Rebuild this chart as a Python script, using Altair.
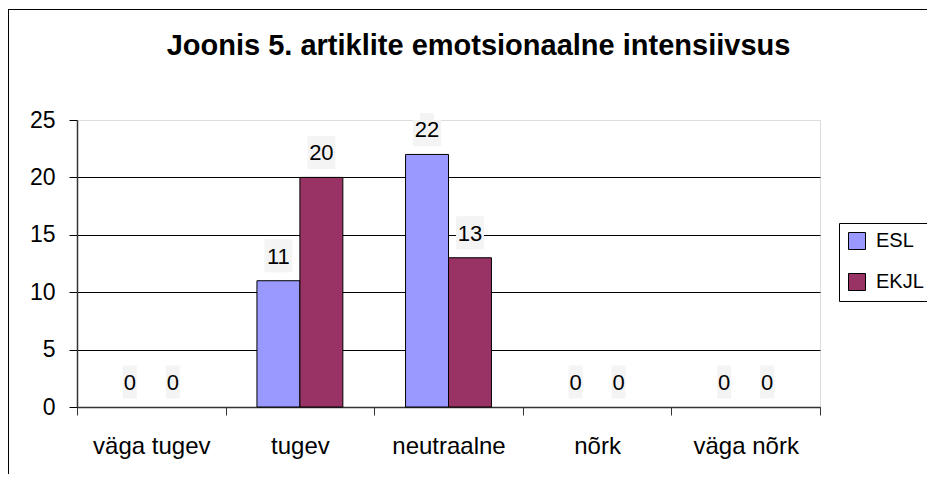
import altair as alt
import pandas as pd

categories = ["väga tugev", "tugev", "neutraalne", "nõrk", "väga nõrk"]
series = ["ESL", "EKJL"]
esl = [0, 11, 22, 0, 0]
ekjl = [0, 20, 13, 0, 0]
colors = ["#9999FF", "#993366"]
title_text = "Joonis 5. artiklite emotsionaalne intensiivsus"

rows = []
for c, a, b in zip(categories, esl, ekjl):
    rows.append({"kategooria": c, "seeria": "ESL", "vaartus": a})
    rows.append({"kategooria": c, "seeria": "EKJL", "vaartus": b})
df = pd.DataFrame(rows)

FONT = "Liberation Sans"
PLOT_H = 287
Y_MAX = 25
PX = Y_MAX / PLOT_H  # data units per pixel, for label box placement

x_enc = alt.X("kategooria:N", sort=categories,
              scale=alt.Scale(domain=categories, paddingInner=0, paddingOuter=0),
              axis=alt.Axis(title=None, labelAngle=0, labelFontSize=24, labelFont=FONT,
                            labelColor="black", labelPadding=19, tickBand="extent",
                            tickSize=8, tickColor="#333333", domainColor="#333333",
                            domainWidth=1.5, grid=False))
xo_enc = alt.XOffset("seeria:N", sort=series,
                     scale=alt.Scale(domain=series, paddingInner=0, paddingOuter=0.73))
y_enc = alt.Y("vaartus:Q",
              scale=alt.Scale(domain=[0, Y_MAX], nice=False),
              axis=alt.Axis(title=None, values=[0, 5, 10, 15, 20, 25], labelFontSize=23,
                            labelFont=FONT, labelColor="black", labelPadding=14,
                            tickSize=8, tickColor="black", domainColor="#333333",
                            domainWidth=1.5, gridColor="black", gridWidth=1,
                            gridOpacity={"condition": {"test": "datum.value >= 25", "value": 0}, "value": 1}))
color_enc = alt.Color("seeria:N", sort=series,
                      scale=alt.Scale(domain=series, range=colors),
                      legend=alt.Legend(title=None, orient="none", legendX=762, legendY=103,
                                        symbolType="square", symbolSize=289,
                                        symbolStrokeColor="black", symbolStrokeWidth=1,
                                        symbolOpacity=1,
                                        labelFontSize=20, labelFont=FONT, labelColor="black",
                                        labelOffset=9, rowPadding=19, padding=8,
                                        strokeColor="black", fillColor="white"))

base = alt.Chart(df)

bars = base.transform_filter("datum.vaartus > 0").mark_bar(
    stroke="black", strokeWidth=1, opacity=1).encode(
    x=x_enc, xOffset=xo_enc, y=y_enc, color=color_enc)

xk = alt.X("kategooria:N", sort=categories)
xok = alt.XOffset("seeria:N", sort=series)

boxes = base.transform_calculate(
    b0=f"datum.vaartus + 8.5 * {PX}", b1=f"datum.vaartus + 41.5 * {PX}"
).mark_bar(color="#F4F4F4", width=14).encode(x=xk, xOffset=xok, y="b0:Q", y2="b1:Q")
boxes_wide = base.transform_calculate(
    b0=f"(datum.vaartus >= 10 ? datum.vaartus : -20) + 8.5 * {PX}",
    b1=f"(datum.vaartus >= 10 ? datum.vaartus : -20) + 41.5 * {PX}"
).mark_bar(color="#F4F4F4", width=28, clip=True).encode(x=xk, xOffset=xok, y="b0:Q", y2="b1:Q")

labels = base.mark_text(fontSize=22, font=FONT, color="black", baseline="middle",
                        align="center", dy=-24).encode(
    x=xk, xOffset=xok, y="vaartus:Q", text="vaartus:Q")

one = pd.DataFrame({"a": [0]})
top_border = alt.Chart(one).mark_rule(color="black", strokeWidth=1).encode(
    x=alt.value(-69), x2=alt.value(860), y=alt.value(-110.5))
left_border = alt.Chart(one).mark_rule(color="black", strokeWidth=1).encode(
    x=alt.value(-68.5), y=alt.value(-111), y2=alt.value(360))

chart = alt.layer(bars, boxes, boxes_wide, labels, top_border, left_border).properties(
    width=743, height=PLOT_H,
    title=alt.TitleParams(text=title_text, fontSize=29, fontWeight="bold", font=FONT,
                          color="black", anchor="middle", dx=30, offset=-75,
                          baseline="alphabetic"),
    autosize=alt.AutoSizeParams(type="none"),
    padding={"left": 69, "top": 112, "right": 107, "bottom": 67},
).configure_view(fill="#C0C0C0", stroke="#808080", strokeWidth=2).configure(background="white")

chart.save("out.html", embed_options={"renderer": "svg", "actions": False})
